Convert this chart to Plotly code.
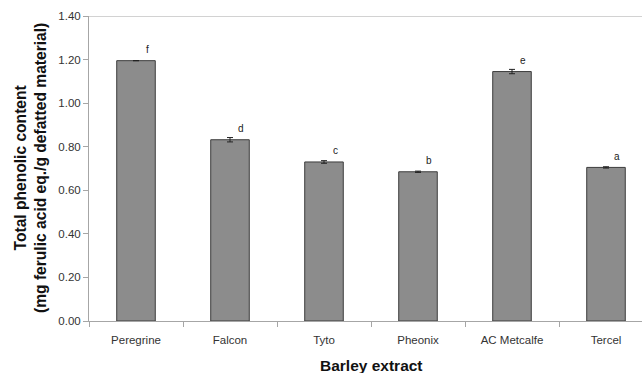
import plotly.graph_objects as go

categories = ["Peregrine", "Falcon", "Tyto", "Pheonix", "AC Metcalfe", "Tercel"]
values = [1.195, 0.832, 0.730, 0.685, 1.145, 0.705]
errors = [0.0, 0.010, 0.006, 0.003, 0.010, 0.003]
letters = ["f", "d", "c", "b", "e", "a"]
yticks = [0.0, 0.2, 0.4, 0.6, 0.8, 1.0, 1.2, 1.4]

FONT = "Liberation Sans, Arial, sans-serif"
W, H = 642, 373
L, R, T, B = 89, 0, 16, 52
PH = H - T - B
PW = W - L - R

fig = go.Figure()
fig.add_trace(go.Bar(
    x=categories, y=values,
    marker=dict(color="#8c8c8c", line=dict(color="#3c3c3c", width=1)),
    error_y=dict(type="data", array=errors, visible=True, color="#222222",
                 thickness=1, width=3),
    width=0.41,
))

for c, v, l in zip(categories, values, letters):
    fig.add_annotation(x=c, y=v, text=l, showarrow=False, xshift=11,
                       yshift=11, yanchor="middle",
                       font=dict(family=FONT, size=10, color="#222222"))

fig.add_shape(type="line", xref="paper", yref="y", x0=0, x1=1, y0=1.4, y1=1.4,
              line=dict(color="#a6a6a6", width=1))

fig.add_annotation(xref="paper", yref="paper", x=(30 - L) / PW, y=(H - B - 168) / PH,
                   text="<b>Total phenolic content</b><br><b>(mg ferulic acid eq./g defatted material)</b>",
                   textangle=-90, showarrow=False, xanchor="center", yanchor="middle",
                   font=dict(family=FONT, size=15.6, color="#111111"))

fig.add_annotation(xref="paper", yref="paper", x=(371 - L) / PW, y=-(365 - (T + PH)) / PH,
                   text="<b>Barley extract</b>", showarrow=False,
                   xanchor="center", yanchor="middle",
                   font=dict(family=FONT, size=15.5, color="#111111"))

fig.update_layout(
    width=W, height=H,
    margin=dict(l=L, r=R, t=T, b=B),
    paper_bgcolor="white", plot_bgcolor="white",
    showlegend=False,
    font=dict(family=FONT, size=11, color="#333333"),
    xaxis=dict(
        automargin=False,
        range=[-0.5, 5.383],
        showline=True, linecolor="#a6a6a6", linewidth=1,
        ticks="outside", tickson="boundaries", ticklen=5, tickcolor="#a6a6a6",
        ticklabelstandoff=8,
        tickfont=dict(family=FONT, size=11.5, color="#333333"),
        showgrid=False,
    ),
    yaxis=dict(
        automargin=False,
        range=[0, 1.4], tickvals=yticks, tickformat=".2f",
        showline=True, linecolor="#a6a6a6", linewidth=1,
        ticks="outside", ticklen=5, tickcolor="#a6a6a6",
        tickfont=dict(family=FONT, size=11.5, color="#333333"),
        showgrid=False, zeroline=False,
    ),
)

fig.write_html("out.html", config={"displayModeBar": False},
               post_script="document.body.style.margin='0';document.body.style.overflow='hidden';")
